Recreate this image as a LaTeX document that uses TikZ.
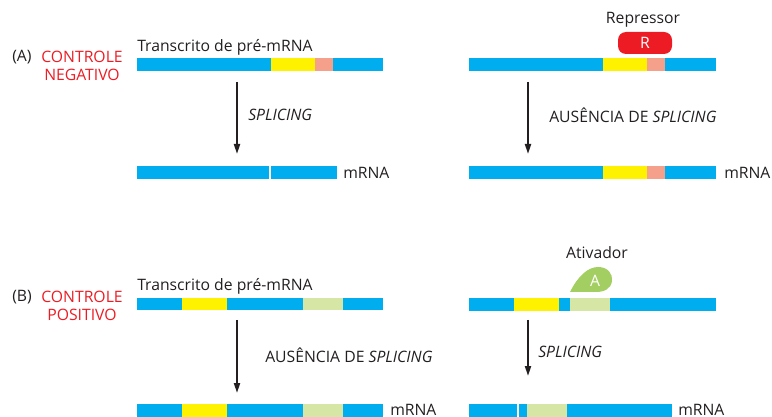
\documentclass[tikz,border=0pt]{standalone}
\usepackage{fontspec}
\setmainfont{Open Sans}
\usetikzlibrary{positioning,arrows.meta}

\definecolor{rnablue}{HTML}{00AEEF}
\definecolor{exonyel}{HTML}{FFF200}
\definecolor{exonsal}{HTML}{F5A08A}
\definecolor{exongrn}{HTML}{D6E6A4}
\definecolor{repred}{HTML}{ED1C24}
\definecolor{actgrn}{HTML}{A3CE62}
\definecolor{txt}{HTML}{231F20}

\begin{document}
\begin{tikzpicture}[
    x=0.75pt, y=-0.75pt,
    lbl/.style={text=txt, font=\fontsize{11.8}{13.5}\selectfont, inner sep=0pt},
    ctl/.style={text=repred, font=\fontsize{11.8}{13.5}\selectfont, align=center, inner sep=0pt},
    arrow/.style={-{Triangle[length=7.5pt,width=4.5pt]}, line width=1.3pt, draw=txt},
    sep/.style={draw=white, line width=0.8pt}
]
\useasboundingbox (0,0) rectangle (772,417);

% (A) Controle negativo
\node[lbl, anchor=west] (tagA) at (12,57) {(A)};
\node[ctl] (ctlA) at (82,66) {CONTROLE\\NEGATIVO};

% pre-mRNA, left
\node[lbl, anchor=base west] (preA) at (137,52) {Transcrito de pré-mRNA};
\fill[rnablue] (137,58) rectangle (271,71);
\fill[exonyel] (271,58) rectangle (315,71);
\fill[exonsal] (315,58) rectangle (333,71);
\fill[rnablue] (333,58) rectangle (383,71);

% splicing arrow, left
\coordinate (a1s) at (237,82);
\coordinate (a1e) at (237,154);
\draw[arrow] (a1s) -- (a1e);
\node[lbl, anchor=west] (spA) at (248,115) {\itshape SPLICING};

% mRNA, left
\fill[rnablue] (137,166) rectangle (337,179);
\draw[sep] (270,166) -- (270,179);
\node[lbl, anchor=west] (mA1) at (343,173) {mRNA};

% pre-mRNA, right, with repressor
\fill[rnablue] (469,58) rectangle (603,71);
\fill[exonyel] (603,58) rectangle (647,71);
\fill[exonsal] (647,58) rectangle (665,71);
\fill[rnablue] (665,58) rectangle (716,71);
\fill[repred, rounded corners=6pt] (618,32) rectangle (672,54);
\node[text=white, font=\fontsize{11.8}{13.5}\selectfont] (rep) at (645,43) {R};
\node[lbl] (repname) at (643,20) {Repressor};

% no splicing arrow, right
\coordinate (a2s) at (528,82);
\coordinate (a2e) at (528,154);
\draw[arrow] (a2s) -- (a2e);
\node[lbl, anchor=west] (nspA) at (549,115) {AUSÊNCIA DE \itshape SPLICING};

% mRNA, right
\fill[rnablue] (469,166) rectangle (603,179);
\fill[exonyel] (603,166) rectangle (647,179);
\fill[exonsal] (647,166) rectangle (665,179);
\fill[rnablue] (665,166) rectangle (716,179);
\node[lbl, anchor=west] (mA2) at (724,173) {mRNA};

% (B) Controle positivo
\node[lbl, anchor=west] (tagB) at (12,297) {(B)};
\node[ctl] (ctlB) at (82,306) {CONTROLE\\POSITIVO};

% pre-mRNA, left
\node[lbl, anchor=base west] (preB) at (137,291) {Transcrito de pré-mRNA};
\fill[rnablue] (137,298) rectangle (182,310);
\fill[exonyel] (182,298) rectangle (227,310);
\fill[rnablue] (227,298) rectangle (303,310);
\fill[exongrn] (303,298) rectangle (343,310);
\fill[rnablue] (343,298) rectangle (383,310);

% no splicing arrow, left
\coordinate (b1s) at (237,320);
\coordinate (b1e) at (237,393);
\draw[arrow] (b1s) -- (b1e);
\node[lbl, anchor=west] (nspB) at (265,355) {AUSÊNCIA DE \itshape SPLICING};

% mRNA, left
\fill[rnablue] (137,404) rectangle (182,417);
\fill[exonyel] (182,404) rectangle (227,417);
\fill[rnablue] (227,404) rectangle (303,417);
\fill[exongrn] (303,404) rectangle (343,417);
\fill[rnablue] (343,404) rectangle (383,417);
\node[lbl, anchor=base west] (mB1) at (390,415) {mRNA};

% pre-mRNA, right, with activator
\fill[rnablue] (469,298) rectangle (514,311);
\fill[exonyel] (514,298) rectangle (559,311);
\fill[rnablue] (559,298) rectangle (570,311);
\fill[exongrn] (570,298) rectangle (610,311);
\fill[rnablue] (610,298) rectangle (716,311);
\fill[actgrn] (570,292) .. controls (578,276) and (588,267) .. (598,267)
  .. controls (608,267) and (613,274) .. (612,281)
  .. controls (611,289) and (604,292) .. (596,292) -- cycle;
\node[text=white, font=\fontsize{11.8}{13.5}\selectfont] (act) at (595,281) {A};
\node[lbl] (actname) at (597,253) {Ativador};

% splicing arrow, right
\coordinate (b2s) at (528,320);
\coordinate (b2e) at (528,376);
\draw[arrow] (b2s) -- (b2e);
\node[lbl, anchor=west] (spB) at (538,352) {\itshape SPLICING};

% mRNA, right
\fill[rnablue] (469,404) rectangle (527,417);
\draw[sep] (518,404) -- (518,417);
\fill[exongrn] (527,404) rectangle (567,417);
\fill[rnablue] (567,404) rectangle (672,417);
\node[lbl, anchor=base west] (mB2) at (678,415) {mRNA};

\end{tikzpicture}
\end{document}
